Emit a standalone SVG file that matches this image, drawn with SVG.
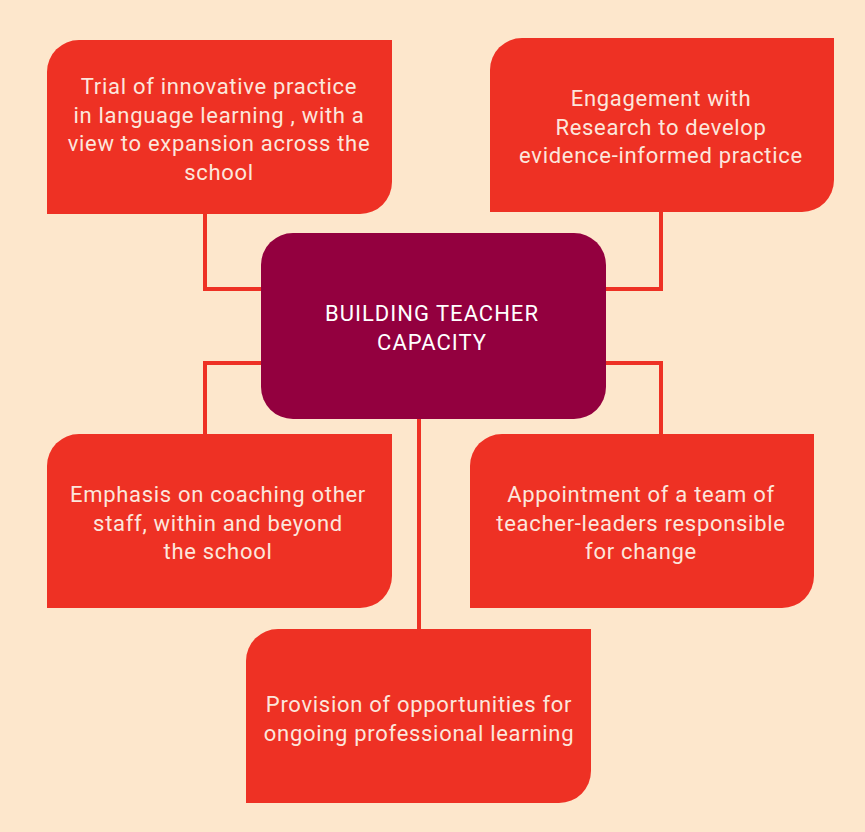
<svg xmlns="http://www.w3.org/2000/svg" width="865" height="832" viewBox="0 0 865 832">
<style>
.box{fill:#EE3124}
.hub{fill:#93003F}
.conn{fill:none;stroke:#EE3124;stroke-width:4;stroke-linejoin:miter}
text{font-family:"Roboto","Liberation Sans",sans-serif;font-size:22px;fill:#FCE6DC;text-anchor:middle;letter-spacing:0.7px}
.hubt{font-size:22px;fill:#FFFFFF;letter-spacing:1px}
</style>
<rect width="865" height="832" fill="#FDE7CC"/>
<g id="connectors">
<polyline class="conn" points="205,212 205,289 263,289"/>
<polyline class="conn" points="661,210 661,289 604,289"/>
<polyline class="conn" points="263,363 205,363 205,436"/>
<polyline class="conn" points="604,363 661,363 661,436"/>
<line class="conn" x1="419" y1="417" x2="419" y2="631"/>
</g>
<g id="n1">
<path class="box" d="M47,214 V72 A32,32 0 0 1 79,40 H392 V182 A32,32 0 0 1 360,214 Z"/>
<text x="219" y="94">Trial of innovative practice</text>
<text x="219" y="122.5">in language learning , with a</text>
<text x="219" y="151">view to expansion across the</text>
<text x="219" y="179.5">school</text>
</g>
<g id="n2">
<path class="box" d="M490,212 V70 A32,32 0 0 1 522,38 H834 V180 A32,32 0 0 1 802,212 Z"/>
<text x="661" y="106">Engagement with</text>
<text x="661" y="134.5">Research to develop</text>
<text x="661" y="163">evidence-informed practice</text>
</g>
<g id="hub">
<rect class="hub" x="261" y="233" width="345" height="186" rx="32" ry="32"/>
<text class="hubt" x="432" y="321">BUILDING TEACHER</text>
<text class="hubt" x="432" y="349.5">CAPACITY</text>
</g>
<g id="n4">
<path class="box" d="M47,608 V466 A32,32 0 0 1 79,434 H392 V576 A32,32 0 0 1 360,608 Z"/>
<text x="218" y="502">Emphasis on coaching other</text>
<text x="218" y="530.5">staff, within and beyond</text>
<text x="218" y="559">the school</text>
</g>
<g id="n5">
<path class="box" d="M470,608 V466 A32,32 0 0 1 502,434 H814 V576 A32,32 0 0 1 782,608 Z"/>
<text x="641" y="502">Appointment of a team of</text>
<text x="641" y="530.5">teacher-leaders responsible</text>
<text x="641" y="559">for change</text>
</g>
<g id="n6">
<path class="box" d="M246,803 V661 A32,32 0 0 1 278,629 H591 V771 A32,32 0 0 1 559,803 Z"/>
<text x="419" y="712">Provision of opportunities for</text>
<text x="419" y="740.5">ongoing professional learning</text>
</g>
</svg>
